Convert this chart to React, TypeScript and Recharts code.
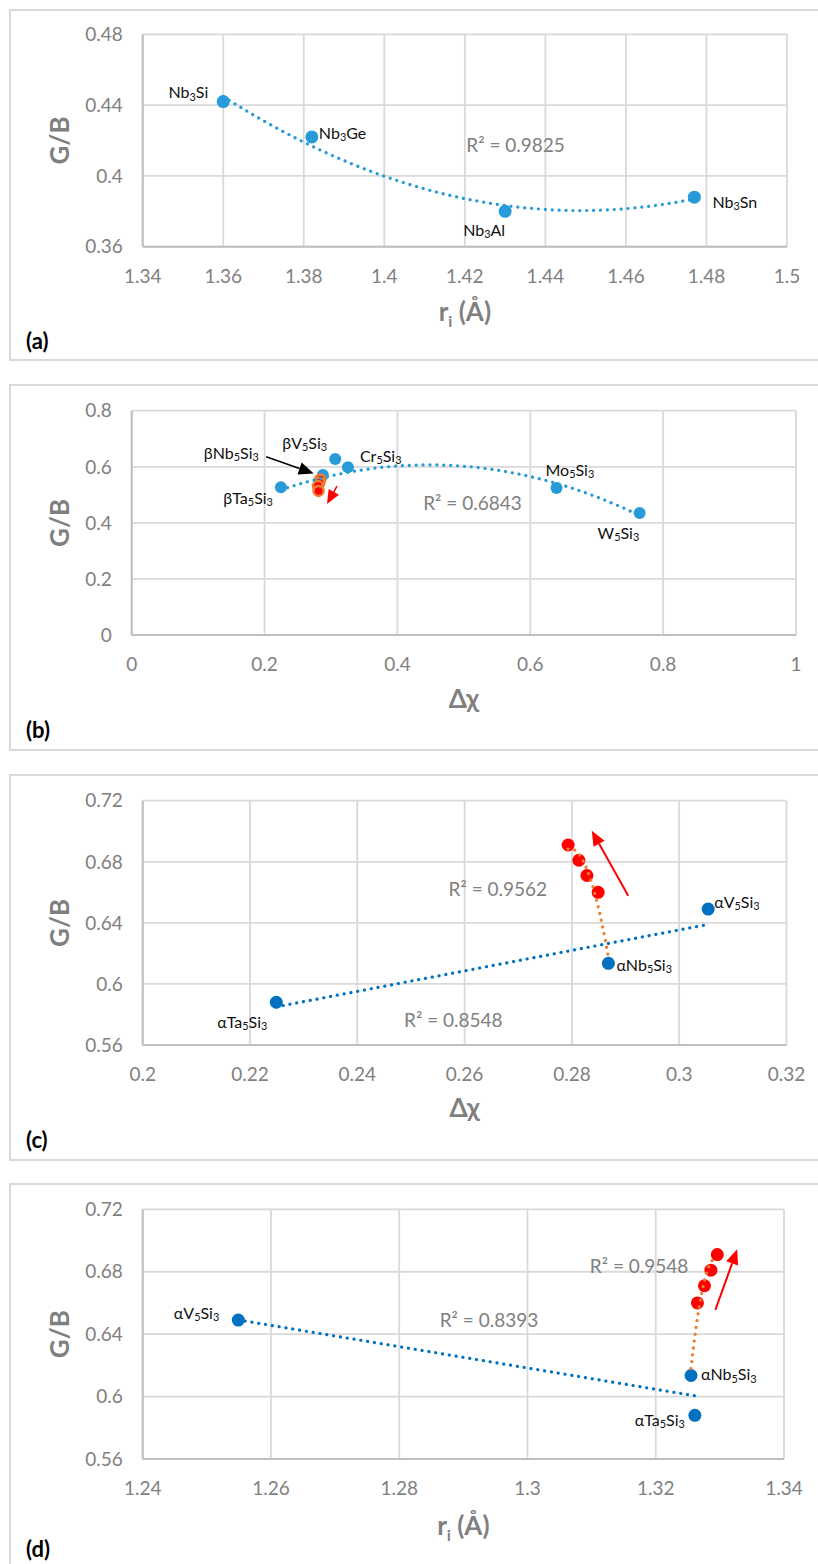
import React from 'react';
import { ScatterChart, Scatter, XAxis, YAxis, CartesianGrid, ReferenceLine, ReferenceDot } from 'recharts';

// G/B of Nb3X, M5Si3 silicides and alloys vs r_i and Δχ (four stacked panels)

const FONT = 'Lato, "Open Sans", sans-serif';
const PAGE_W = 818;
const GRID = '#D9D9D9';
const AXIS = '#BFBFBF';
const TEXT_GREY = '#7F7F7F';
const BLUE_LIGHT = '#279BD9';
const BLUE = '#0070C0';
const RED = '#FF0000';
const ORANGE = '#ED7D31';

// (a) A15 Nb3X compounds
const A_NAMES = ['Nb3Si', 'Nb3Ge', 'Nb3Al', 'Nb3Sn'];
const A_RI = [1.36, 1.382, 1.43, 1.477];
const A_GB = [0.442, 0.422, 0.38, 0.388];
const A_XTICKS = [1.34, 1.36, 1.38, 1.4, 1.42, 1.44, 1.46, 1.48, 1.5];
const A_YTICKS = [0.36, 0.4, 0.44, 0.48];

// (b) beta / tetragonal 5-3 silicides
const B_NAMES = ['βTa5Si3', 'βNb5Si3', 'βV5Si3', 'Cr5Si3', 'Mo5Si3', 'W5Si3'];
const B_DCHI = [0.2246, 0.2878, 0.3064, 0.3255, 0.6395, 0.7646];
const B_GB = [0.527, 0.571, 0.628, 0.598, 0.524, 0.435];
const B_ALLOY_DCHI = [0.2838, 0.2825, 0.2803, 0.2813];
const B_ALLOY_GB = [0.555, 0.543, 0.531, 0.514];
const B_XTICKS = [0, 0.2, 0.4, 0.6, 0.8, 1];
const B_YTICKS = [0, 0.2, 0.4, 0.6, 0.8];

// (c), (d) alpha 5-3 silicides and alloys
const ALPHA_NAMES = ['αTa5Si3', 'αNb5Si3', 'αV5Si3'];
const ALPHA_DCHI = [0.2249, 0.2868, 0.3054];
const ALPHA_RI = [1.3261, 1.3255, 1.2549];
const ALPHA_GB = [0.588, 0.6135, 0.649];
const ALLOY_DCHI = [0.2793, 0.2813, 0.2828, 0.2849];
const ALLOY_RI = [1.3296, 1.3286, 1.3276, 1.3265];
const ALLOY_GB = [0.691, 0.681, 0.671, 0.66];
const C_XTICKS = [0.2, 0.22, 0.24, 0.26, 0.28, 0.3, 0.32];
const D_XTICKS = [1.24, 1.26, 1.28, 1.3, 1.32, 1.34];
const CD_YTICKS = [0.56, 0.6, 0.64, 0.68, 0.72];

const R2_A = ['R² = 0.9825'];
const R2_B = ['R² = 0.6843'];
const R2_C = ['R² = 0.9562', 'R² = 0.8548'];
const R2_D = ['R² = 0.9548', 'R² = 0.8393'];

// label offsets from the point, px: [dx, dy, anchor]
type Anchor = 'start' | 'middle' | 'end';
const A_LABEL_POS: Record<string, [number, number, Anchor]> = {
  Nb3Si: [-15, -9, 'end'],
  Nb3Ge: [7, -4, 'start'],
  Nb3Al: [-21, 19, 'middle'],
  Nb3Sn: [18, 5, 'start'],
};
const B_LABEL_POS: Record<string, [number, number, Anchor]> = {
  βTa5Si3: [-8, 11, 'end'],
  βNb5Si3: [-64, -22, 'end'],
  βV5Si3: [-53, -16, 'start'],
  Cr5Si3: [12, -11, 'start'],
  Mo5Si3: [-11, -18, 'start'],
  W5Si3: [-42, 20, 'start'],
};
const C_LABEL_POS: Record<string, [number, number, Anchor]> = {
  αTa5Si3: [-34, 20, 'middle'],
  αNb5Si3: [8, 2, 'start'],
  αV5Si3: [6, -7, 'start'],
};
const D_LABEL_POS: Record<string, [number, number, Anchor]> = {
  αTa5Si3: [-10, 5, 'end'],
  αNb5Si3: [10, -1, 'start'],
  αV5Si3: [-19, -7, 'end'],
};

// least squares polynomial, fitted on centred x
function polyFit(xs: number[], ys: number[], deg: number) {
  const mx = xs.reduce((s, v) => s + v, 0) / xs.length;
  const n = deg + 1;
  const A = Array.from({ length: n }, () => new Array(n + 1).fill(0));
  xs.forEach((x0, k) => {
    const x = x0 - mx;
    for (let i = 0; i < n; i++) {
      for (let j = 0; j < n; j++) A[i][j] += Math.pow(x, i + j);
      A[i][n] += Math.pow(x, i) * ys[k];
    }
  });
  for (let c = 0; c < n; c++) {
    let p = c;
    for (let r = c + 1; r < n; r++) if (Math.abs(A[r][c]) > Math.abs(A[p][c])) p = r;
    [A[c], A[p]] = [A[p], A[c]];
    for (let r = 0; r < n; r++) {
      if (r === c) continue;
      const f = A[r][c] / A[c][c];
      for (let k = c; k <= n; k++) A[r][k] -= f * A[c][k];
    }
  }
  const coef = A.map((row, i) => row[n] / row[i]);
  return (x: number) => coef.reduce((s, c, i) => s + c * Math.pow(x - mx, i), 0);
}

function trend(xs: number[], ys: number[], deg: number) {
  const f = polyFit(xs, ys, deg);
  const lo = Math.min(...xs);
  const hi = Math.max(...xs);
  const steps = deg === 1 ? 1 : 80;
  return Array.from({ length: steps + 1 }, (_, i) => {
    const x = lo + ((hi - lo) * i) / steps;
    return { x, y: f(x) };
  });
}

const toPoints = (xs: number[], ys: number[], names?: string[]) =>
  xs.map((x, i) => ({ x, y: ys[i], name: names ? names[i] : '' }));

const fmt = (v: number) => String(+v.toFixed(2));

function Formula({ x, y, text, anchor }: { x: number; y: number; text: string; anchor: Anchor }) {
  const size = 16;
  const parts = text.match(/\d+|\D+/g) || [];
  let lowered = false;
  return (
    <text x={x} y={y + size * 0.35} textAnchor={anchor} fontSize={size} fontFamily={FONT} fill="#111">
      {parts.map((p, i) => {
        const sub = /\d/.test(p);
        const dy = sub ? (lowered ? 0 : 2.5) : lowered ? -2.5 : 0;
        lowered = sub;
        return (
          <tspan key={i} dy={dy} fontSize={sub ? size * 0.68 : size}>
            {p}
          </tspan>
        );
      })}
    </text>
  );
}

function Arrow(props: any) {
  const { x1, y1, x2, y2, color, width, head } = props;
  const ang = Math.atan2(y2 - y1, x2 - x1);
  const bx = x2 - head * Math.cos(ang);
  const by = y2 - head * Math.sin(ang);
  const hw = head * 0.42;
  const px = -Math.sin(ang) * hw;
  const py = Math.cos(ang) * hw;
  return (
    <g>
      <line x1={x1} y1={y1} x2={bx} y2={by} stroke={color} strokeWidth={width} />
      <polygon points={`${x2},${y2} ${bx + px},${by + py} ${bx - px},${by - py}`} fill={color} />
    </g>
  );
}

type Frame = {
  boxTop: number;
  boxBottom: number;
  plotTop: number;
  plotBottom: number;
  plotLeft: number;
  plotRight: number;
  titleY: number;
  letterY: number;
  letter: string;
  xTitle: 'ri' | 'dchi';
  xDomain: [number, number];
  yDomain: [number, number];
  xTicks: number[];
  yTicks: number[];
};

const FRAME_A: Frame = {
  boxTop: 9, boxBottom: 361, plotTop: 34.3, plotBottom: 246.7, plotLeft: 142.7, plotRight: 787,
  titleY: 321, letterY: 340, letter: '(a)', xTitle: 'ri',
  xDomain: [1.34, 1.5], yDomain: [0.36, 0.48], xTicks: A_XTICKS, yTicks: A_YTICKS,
};
const FRAME_B: Frame = {
  boxTop: 384, boxBottom: 751, plotTop: 410.7, plotBottom: 635, plotLeft: 131.7, plotRight: 796,
  titleY: 708, letterY: 729, letter: '(b)', xTitle: 'dchi',
  xDomain: [0, 1], yDomain: [0, 0.8], xTicks: B_XTICKS, yTicks: B_YTICKS,
};
const FRAME_C: Frame = {
  boxTop: 774, boxBottom: 1161, plotTop: 800.7, plotBottom: 1045, plotLeft: 142.7, plotRight: 786.5,
  titleY: 1117, letterY: 1139, letter: '(c)', xTitle: 'dchi',
  xDomain: [0.2, 0.32], yDomain: [0.56, 0.72], xTicks: C_XTICKS, yTicks: CD_YTICKS,
};
const FRAME_D: Frame = {
  boxTop: 1183, boxBottom: 1570, plotTop: 1209.3, plotBottom: 1459, plotLeft: 142.7, plotRight: 784,
  titleY: 1535, letterY: 1548, letter: '(d)', xTitle: 'ri',
  xDomain: [1.24, 1.34], yDomain: [0.56, 0.72], xTicks: D_XTICKS, yTicks: CD_YTICKS,
};

const TICK = { fill: '#808080', fontSize: 19, fontFamily: FONT };
const Y_AXIS_W = 60;
const X_AXIS_H = 50;

function axes(f: Frame) {
  const cx = (f.plotLeft + f.plotRight) / 2;
  const xTitle = () => (
    <g>
      <text x={cx} y={f.titleY - f.boxTop} textAnchor="middle" fontFamily={FONT} fontWeight={700} fontSize={26} fill={TEXT_GREY}>
        {f.xTitle === 'ri' ? (
          <>
            <tspan>r</tspan>
            <tspan fontSize={16} dy={6}>i</tspan>
            <tspan dy={-6}> (Å)</tspan>
          </>
        ) : (
          'Δχ'
        )}
      </text>
      <text x={26} y={f.letterY - f.boxTop} dominantBaseline="central" fontFamily={FONT} fontWeight={700} fontSize={22} fill="#000">
        {f.letter}
      </text>
    </g>
  );
  const yTitle = () => {
    const y = (f.plotTop + f.plotBottom) / 2 - f.boxTop;
    return (
      <text x={59} y={y} transform={`rotate(-90 59 ${y})`} textAnchor="middle" dominantBaseline="central" fontFamily={FONT} fontWeight={700} fontSize={26} fill={TEXT_GREY}>
        G/B
      </text>
    );
  };
  return [
    <CartesianGrid key="grid" stroke={GRID} strokeWidth={1.8} />,
    <XAxis
      key="x"
      type="number"
      dataKey="x"
      domain={f.xDomain}
      ticks={f.xTicks}
      interval={0}
      allowDataOverflow
      tickFormatter={fmt}
      tick={TICK}
      tickLine={false}
      tickSize={0}
      tickMargin={23}
      axisLine={{ stroke: AXIS, strokeWidth: 2 }}
      height={X_AXIS_H}
      label={{ content: xTitle }}
    />,
    <YAxis
      key="y"
      type="number"
      dataKey="y"
      domain={f.yDomain}
      ticks={f.yTicks}
      interval={0}
      allowDataOverflow
      tickFormatter={fmt}
      tick={TICK}
      tickLine={false}
      tickSize={0}
      tickMargin={20}
      axisLine={{ stroke: AXIS, strokeWidth: 2 }}
      width={Y_AXIS_W}
      label={{ content: yTitle }}
    />,
  ];
}

const dot = (fill: string, r = 6.5, stroke?: string) => (p: any) =>
  <circle cx={p.cx} cy={p.cy} r={r} fill={fill} stroke={stroke || 'none'} strokeWidth={stroke ? 2.5 : 0} />;

const noDot = () => <g />;

const dotted = (stroke: string) => ({
  stroke,
  strokeWidth: 3.2,
  strokeDasharray: '0.1 6.8',
  strokeLinecap: 'round' as const,
});

function labels(xs: number[], ys: number[], names: string[], pos: Record<string, [number, number, Anchor]>) {
  return names.map((name, i) => (
    <ReferenceDot
      key={`lbl-${name}`}
      x={xs[i]}
      y={ys[i]}
      r={0}
      fill="none"
      stroke="none"
      ifOverflow="visible"
      label={{
        content: (p: any) => {
          const vb = p.viewBox || {};
          const [dx, dy, anchor] = pos[name];
          return <Formula x={vb.x + dx} y={vb.y + dy} text={name} anchor={anchor} />;
        },
      }}
    />
  ));
}

function r2(x: number, y: number, text: string) {
  return (
    <ReferenceDot
      key={`r2-${text}`}
      x={x}
      y={y}
      r={0}
      fill="none"
      stroke="none"
      ifOverflow="visible"
      label={{ value: text, position: 'center', fill: '#808080', fontSize: 19, fontFamily: FONT }}
    />
  );
}

function arrow(from: [number, number], to: [number, number], color: string, width: number, head: number) {
  return (
    <ReferenceLine
      key={`arr-${from.join()}`}
      segment={[{ x: from[0], y: from[1] }, { x: to[0], y: to[1] }]}
      ifOverflow="visible"
      shape={(p: any) => <Arrow x1={p.x1} y1={p.y1} x2={p.x2} y2={p.y2} color={color} width={width} head={head} />}
    />
  );
}

function Panel({ f, children }: { f: Frame; children: React.ReactNode }) {
  const h = f.boxBottom - f.boxTop;
  return (
    <>
      <div
        style={{
          position: 'absolute',
          left: 9,
          top: f.boxTop,
          width: 830,
          height: h,
          border: `2px solid ${GRID}`,
          boxSizing: 'border-box',
        }}
      />
      <div style={{ position: 'absolute', left: 0, top: f.boxTop }}>
        <ScatterChart
          width={PAGE_W}
          height={h}
          margin={{
            top: f.plotTop - f.boxTop,
            right: PAGE_W - f.plotRight,
            bottom: f.boxBottom - f.plotBottom - X_AXIS_H,
            left: f.plotLeft - Y_AXIS_W,
          }}
        >
          {children}
        </ScatterChart>
      </div>
    </>
  );
}

export default function App() {
  const aPts = toPoints(A_RI, A_GB, A_NAMES);
  const aTrend = trend(A_RI, A_GB, 2);

  // (b) quadratic trend is taken over the silicides together with the alloys
  const bPts = toPoints(B_DCHI, B_GB, B_NAMES);
  const bAlloy = toPoints(B_ALLOY_DCHI, B_ALLOY_GB);
  const bTrend = trend([...B_DCHI, ...B_ALLOY_DCHI], [...B_GB, ...B_ALLOY_GB], 2);

  // alloy trends run from αNb5Si3 through the alloy points
  const cPts = toPoints(ALPHA_DCHI, ALPHA_GB, ALPHA_NAMES);
  const cAlloy = toPoints(ALLOY_DCHI, ALLOY_GB);
  const cTrendBlue = trend(ALPHA_DCHI, ALPHA_GB, 1);
  const cTrendOrange = trend([ALPHA_DCHI[1], ...ALLOY_DCHI], [ALPHA_GB[1], ...ALLOY_GB], 2);

  const dPts = toPoints(ALPHA_RI, ALPHA_GB, ALPHA_NAMES);
  const dAlloy = toPoints(ALLOY_RI, ALLOY_GB);
  const dTrendBlue = trend(ALPHA_RI, ALPHA_GB, 1);
  const dTrendOrange = trend([ALPHA_RI[1], ...ALLOY_RI], [ALPHA_GB[1], ...ALLOY_GB], 2);

  return (
    <div
      style={{
        position: 'absolute',
        left: 0,
        top: 0,
        width: PAGE_W,
        height: 1564,
        overflow: 'hidden',
        background: '#fff',
        fontFamily: FONT,
      }}
    >
      <Panel f={FRAME_A}>
        {axes(FRAME_A)}
        <Scatter data={aPts} shape={dot(BLUE_LIGHT)} isAnimationActive={false} />
        <Scatter data={aTrend} shape={noDot} line={dotted(BLUE_LIGHT)} isAnimationActive={false} />
        {labels(A_RI, A_GB, A_NAMES, A_LABEL_POS)}
        {r2(1.4326, 0.4171, R2_A[0])}
      </Panel>

      <Panel f={FRAME_B}>
        {axes(FRAME_B)}
        <Scatter data={bPts} shape={dot(BLUE_LIGHT, 6)} isAnimationActive={false} />
        <Scatter data={bAlloy} shape={dot(RED, 5, ORANGE)} isAnimationActive={false} />
        <Scatter data={bTrend} shape={noDot} line={dotted(BLUE_LIGHT)} isAnimationActive={false} />
        {labels(B_DCHI, B_GB, B_NAMES, B_LABEL_POS)}
        {r2(0.513, 0.471, R2_B[0])}
        {arrow([0.2024, 0.636], [0.274, 0.576], '#000', 1.5, 15)}
        {arrow([0.309, 0.531], [0.294, 0.467], RED, 1.5, 14)}
      </Panel>

      <Panel f={FRAME_C}>
        {axes(FRAME_C)}
        <Scatter data={cPts} shape={dot(BLUE)} isAnimationActive={false} />
        <Scatter data={cAlloy} shape={dot(RED)} isAnimationActive={false} />
        <Scatter data={cTrendBlue} shape={noDot} line={dotted(BLUE)} isAnimationActive={false} />
        <Scatter data={cTrendOrange} shape={noDot} line={dotted(ORANGE)} isAnimationActive={false} />
        {labels(ALPHA_DCHI, ALPHA_GB, ALPHA_NAMES, C_LABEL_POS)}
        {r2(0.2662, 0.662, R2_C[0])}
        {r2(0.2579, 0.5764, R2_C[1])}
        {arrow([0.2905, 0.6578], [0.2837, 0.7004], RED, 2, 15)}
      </Panel>

      <Panel f={FRAME_D}>
        {axes(FRAME_D)}
        <Scatter data={dPts} shape={dot(BLUE)} isAnimationActive={false} />
        <Scatter data={dAlloy} shape={dot(RED)} isAnimationActive={false} />
        <Scatter data={dTrendBlue} shape={noDot} line={dotted(BLUE)} isAnimationActive={false} />
        <Scatter data={dTrendOrange} shape={noDot} line={dotted(ORANGE)} isAnimationActive={false} />
        {labels(ALPHA_RI, ALPHA_GB, ALPHA_NAMES, D_LABEL_POS)}
        {r2(1.3174, 0.6837, R2_D[0])}
        {r2(1.294, 0.6486, R2_D[1])}
        {arrow([1.3293, 0.6555], [1.3327, 0.6944], RED, 2, 15)}
      </Panel>
    </div>
  );
}
